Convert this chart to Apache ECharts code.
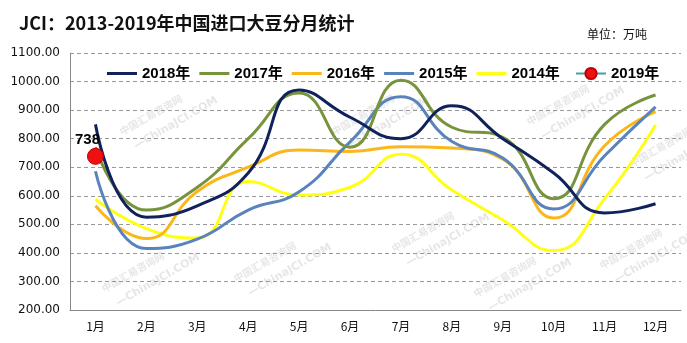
<!DOCTYPE html>
<html>
<head>
<meta charset="utf-8">
<script src="https://cdn.jsdelivr.net/npm/echarts@6/dist/echarts.min.js"></script>
<style>
  html, body { margin: 0; padding: 0; background: #fff; }
  #chart { width: 687px; height: 343px; }
</style>
</head>
<body>
<div id="chart"></div>
<script>
// Monthly soybean imports, 10k tonnes
const months = ['1月', '2月', '3月', '4月', '5月', '6月', '7月', '8月', '9月', '10月', '11月', '12月'];
const y2018 = [850, 525, 565, 680, 970, 875, 800, 915, 800, 680, 540, 572];
const y2017 = [770, 550, 630, 800, 960, 770, 1005, 840, 805, 590, 850, 953];
const y2016 = [565, 450, 615, 700, 760, 755, 772, 767, 728, 522, 775, 895];
const y2015 = [686, 415, 448, 550, 614, 789, 947, 790, 732, 554, 740, 911];
const y2014 = [588, 485, 452, 650, 603, 630, 745, 620, 515, 408, 590, 848];
const y2019 = [738, null, null, null, null, null, null, null, null, null, null, null];
const yTicks = { min: 200, max: 1100, step: 100 };

const chart = echarts.init(document.getElementById('chart'), null, { renderer: 'canvas' });

function lineSeries(name, data, color) {
  return {
    name: name,
    type: 'line',
    data: data,
    smooth: 0.5,
    symbol: 'none',
    lineStyle: { color: color, width: 3 },
    itemStyle: { color: color },
    z: 2
  };
}

// faint site watermarks scattered over the plot
const marks = [[118, 128], [100, 285], [232, 275], [330, 128], [390, 245], [525, 118], [472, 290], [598, 262], [628, 160]];
const watermark = [];
marks.forEach(function (p) {
  watermark.push({
    type: 'text', x: p[0], y: p[1], rotation: 0.52, silent: true, z: 0,
    style: { text: '中国汇易咨询网', fill: 'rgba(150,150,150,0.24)', font: 'bold 10px "Noto Sans CJK SC"' }
  });
  watermark.push({
    type: 'text', x: p[0] + 14, y: p[1] + 14, rotation: 0.52, silent: true, z: 0,
    style: { text: '—ChinaJCI.COM', fill: 'rgba(150,150,150,0.24)', font: 'bold 11px "DejaVu Sans"' }
  });
});

const legendText = { fontFamily: '"Liberation Sans", "Noto Sans CJK SC"', fontWeight: 'bold', fontSize: 15, color: '#000' };

chart.setOption({
  animation: false,
  backgroundColor: '#fff',
  title: [
    {
      text: 'JCI：2013-2019年中国进口大豆分月统计',
      left: 14, top: 9,
      textStyle: { fontFamily: '"Noto Sans CJK SC"', fontWeight: 'bold', fontSize: 18, color: '#111' }
    },
    {
      text: '单位：万吨',
      left: 582, top: 23,
      textStyle: { fontFamily: '"Noto Sans CJK SC"', fontWeight: 'normal', fontSize: 12, color: '#111' }
    }
  ],
  legend: [
    {
      left: 102, top: 61,
      icon: 'rect',
      itemWidth: 30, itemHeight: 3, itemGap: 9,
      data: ['2018年', '2017年', '2016年', '2015年', '2014年'],
      textStyle: legendText
    },
    {
      left: 570, top: 61,
      itemWidth: 30, itemHeight: 14,
      data: ['2019年'],
      textStyle: legendText
    }
  ],
  grid: { left: 70, right: 6, top: 53, bottom: 33, containLabel: false },
  xAxis: {
    type: 'category',
    data: months,
    boundaryGap: true,
    axisLine: { lineStyle: { color: '#888', width: 1 } },
    axisTick: { show: false },
    axisLabel: { margin: 10, fontFamily: '"Noto Sans CJK SC"', fontSize: 12, color: '#111' }
  },
  yAxis: {
    type: 'value',
    min: yTicks.min, max: yTicks.max, interval: yTicks.step,
    axisLine: { show: true, lineStyle: { color: '#888', width: 1 } },
    axisTick: { show: false },
    axisLabel: {
      margin: 10, fontFamily: '"DejaVu Sans"', fontSize: 12, color: '#111',
      formatter: function (v) { return v.toFixed(2); }
    },
    splitLine: { lineStyle: { color: '#999', type: [4, 3], width: 1 } }
  },
  graphic: watermark,
  series: [
    lineSeries('2014年', y2014, '#ffff14'),
    lineSeries('2016年', y2016, '#fbb719'),
    lineSeries('2015年', y2015, '#5983bd'),
    lineSeries('2017年', y2017, '#77933c'),
    lineSeries('2018年', y2018, '#10225c'),
    {
      name: '2019年',
      type: 'line',
      data: y2019,
      symbol: 'circle',
      symbolSize: 16,
      showSymbol: true,
      lineStyle: { color: '#4a9bab', width: 3 },
      itemStyle: { color: '#ee1111', borderColor: '#c00000', borderWidth: 1 },
      label: {
        show: true, position: 'top', offset: [-8, 4],
        fontFamily: '"Liberation Sans"', fontWeight: 'bold', fontSize: 15, color: '#000',
        formatter: '{c}'
      },
      z: 5
    }
  ]
});
</script>
</body>
</html>
